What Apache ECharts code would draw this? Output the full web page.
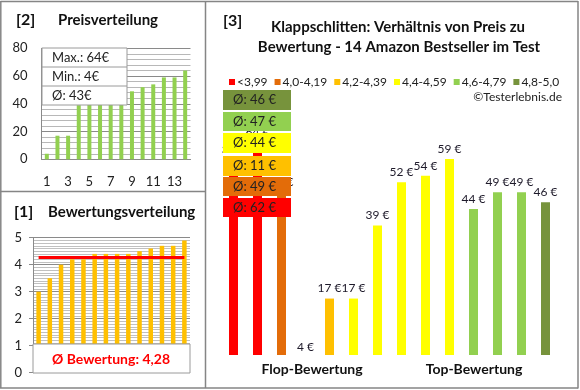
<!DOCTYPE html>
<html><head><meta charset="utf-8">
<script src="https://cdn.jsdelivr.net/npm/echarts@6/dist/echarts.min.js"></script>
<style>html,body{margin:0;padding:0;background:#fff}#c{width:580px;height:390px}</style>
</head><body><div id="c"></div>
<script>
// ---- data ----
const priceRank = ['1','2','3','4','5','6','7','8','9','10','11','12','13','14'];
const sortedPrices = [4,17,17,39,44,46,49,49,49,52,54,59,59,64];
const sortedRatings = [3.0,3.5,4.0,4.2,4.2,4.4,4.4,4.4,4.4,4.5,4.6,4.7,4.7,4.9];
const productPrices = [59,64,49,4,17,17,39,52,54,59,44,49,49,46];
const productRatings = [3.0,3.5,4.0,4.2,4.2,4.4,4.4,4.4,4.4,4.5,4.6,4.7,4.7,4.9];
const groupNames = ['<3,99','4,0-4,19','4,2-4,39','4,4-4,59','4,6-4,79','4,8-5,0'];
const groupUpper = [4.0,4.2,4.4,4.6,4.8,5.01];
const groupColors = ['#FF0000','#E36C09','#FFC000','#FFFF00','#92D050','#77933C'];

const FONT = 'Lato, "Open Sans", sans-serif';
const groupOf = r => groupUpper.findIndex(u => r < u - 1e-9);
const avg = a => a.reduce((s,v)=>s+v,0)/a.length;

const maxP = Math.max(...sortedPrices), minP = Math.min(...sortedPrices), avgP = Math.round(avg(sortedPrices));
const avgR = avg(sortedRatings);

// per-group average prices (overlay boxes)
const groupAvg = groupNames.map((n,g)=>{
  const v = productPrices.filter((p,i)=>groupOf(productRatings[i])===g);
  return Math.round(avg(v));
});

const mainSeries = groupNames.map((name,g)=>({
  name, type:'bar', xAxisIndex:2, yAxisIndex:2, barWidth:9, barGap:'-100%',
  itemStyle:{color:groupColors[g]},
  label:{show:true, position:'top', distance:4, formatter:p=>p.value+' €', fontFamily:FONT, fontSize:12, color:'#1e1a2a'},
  data: productPrices.map((p,i)=>{
    if (groupOf(productRatings[i])!==g) return '-';
    if (p < 10) return {value:p, label:{position:'inside', backgroundColor:'#fff', padding:[3,4,3,4], offset:[0,-1]}};
    return p;
  }),
  z: 2
}));

const boxTop = [90,112,133,156,177,198];
const boxH = [20,19,20,20,19,19];
const overlay = [];
for (let k=0;k<6;k++){
  const g = 5-k;
  overlay.push({type:'rect', shape:{x:223,y:boxTop[k],width:68,height:boxH[k]}, style:{fill:groupColors[g]}, z:50});
  overlay.push({type:'text', x:233, y:boxTop[k]+boxH[k]/2, style:{text:'Ø: '+groupAvg[g]+' €', font:'13px '+FONT, fill:'#222', textVerticalAlign:'middle'}, z:51});
}

const borderColor = '#858585';
const line = (x1,y1,x2,y2)=>({type:'line', shape:{x1,y1,x2,y2}, style:{stroke:borderColor, lineWidth:1.5}, z:100});

const chart = echarts.init(document.getElementById('c'), null, {renderer:'canvas'});
chart.setOption({
  animation:false,
  textStyle:{fontFamily:FONT},
  grid:[
    {left:41.5, top:48.3, width:149, height:111},
    {left:33, top:237.7, width:157, height:135},
    {left:221.5, top:89.4, width:336, height:265.6}
  ],
  xAxis:[
    {type:'category', gridIndex:0, data:priceRank, axisLine:{lineStyle:{color:'#8a8a8a'}}, axisTick:{show:false},
     axisLabel:{interval:1, margin:16, fontSize:13, color:'#222', fontFamily:FONT}},
    {type:'category', gridIndex:1, data:priceRank, axisLine:{show:false}, axisTick:{show:false}, axisLabel:{show:false}},
    {type:'category', gridIndex:2, data:priceRank, axisLine:{show:false}, axisTick:{show:false}, axisLabel:{show:false}}
  ],
  yAxis:[
    {type:'value', gridIndex:0, min:0, max:80, interval:20,
     axisLine:{show:true, lineStyle:{color:'#8a8a8a'}}, axisTick:{show:false},
     axisLabel:{fontSize:13, color:'#222', margin:14, fontFamily:FONT},
     splitLine:{lineStyle:{color:'#8a8a8a'}},
     minorTick:{show:false, splitNumber:5}, minorSplitLine:{show:true, lineStyle:{color:'#b8b8b8'}}},
    {type:'value', gridIndex:1, min:0, max:5, interval:1,
     axisLine:{show:true, lineStyle:{color:'#8a8a8a'}}, axisTick:{show:true, length:4, lineStyle:{color:'#8a8a8a'}},
     axisLabel:{fontSize:13, color:'#222', margin:11, fontFamily:FONT},
     splitLine:{lineStyle:{color:'#8a8a8a'}},
     minorTick:{show:false, splitNumber:10}, minorSplitLine:{show:true, lineStyle:{color:'#c0c0c0'}}},
    {type:'value', gridIndex:2, min:0, max:80, show:false, splitLine:{show:false}}
  ],
  legend:{data:groupNames, left:224, top:71, itemWidth:6, itemHeight:6, itemGap:7, icon:'rect',
    textStyle:{fontSize:12, color:'#222', fontFamily:FONT, padding:[0,0,0,-3]}},
  series:[
    {type:'bar', xAxisIndex:0, yAxisIndex:0, data:sortedPrices, barWidth:4, itemStyle:{color:'#92D050'}},
    {type:'bar', xAxisIndex:1, yAxisIndex:1, data:sortedRatings, barWidth:4.5, itemStyle:{color:'#FFC000'},
     markLine:{silent:true, symbol:'none', label:{show:false}, lineStyle:{color:'#FF0000', width:3, type:'solid'},
       data:[[{coord:[0,avgR]},{coord:[13,avgR]}]]}},
    ...mainSeries
  ],
  graphic:[
    // panel titles
    {type:'text', x:16, y:20, style:{text:'[2]', font:'bold 16px '+FONT, fill:'#111', textVerticalAlign:'middle'}},
    {type:'text', x:58, y:20, style:{text:'Preisverteilung', font:'bold 15px '+FONT, fill:'#111', textVerticalAlign:'middle'}},
    {type:'text', x:14, y:212, style:{text:'[1]', font:'bold 16px '+FONT, fill:'#111', textVerticalAlign:'middle'}},
    {type:'text', x:48, y:212, style:{text:'Bewertungsverteilung', font:'bold 15px '+FONT, fill:'#111', textVerticalAlign:'middle'}},
    {type:'text', x:223, y:21, style:{text:'[3]', font:'bold 16px '+FONT, fill:'#111', textVerticalAlign:'middle'}},
    {type:'text', x:398, y:27, style:{text:'Klappschlitten: Verhältnis von Preis zu', font:'bold 15px '+FONT, fill:'#111', textAlign:'center', textVerticalAlign:'middle'}},
    {type:'text', x:399, y:47, style:{text:'Bewertung - 14 Amazon Bestseller im Test', font:'bold 15px '+FONT, fill:'#111', textAlign:'center', textVerticalAlign:'middle'}},
    {type:'text', x:562, y:97, style:{text:'©Testerlebnis.de', font:'12px '+FONT, fill:'#222', textAlign:'right', textVerticalAlign:'middle'}},
    {type:'text', x:312, y:369, style:{text:'Flop-Bewertung', font:'bold 14px '+FONT, fill:'#111', textAlign:'center', textVerticalAlign:'middle'}},
    {type:'text', x:474, y:369, style:{text:'Top-Bewertung', font:'bold 14px '+FONT, fill:'#111', textAlign:'center', textVerticalAlign:'middle'}},
    // price summary box
    {type:'rect', shape:{x:42,y:48,width:85,height:57}, style:{fill:'#fff', stroke:'#9a9a9a', lineWidth:1}, z:40},
    {type:'line', shape:{x1:42,y1:67,x2:127,y2:67}, style:{stroke:'#9a9a9a', lineWidth:1}, z:41},
    {type:'line', shape:{x1:42,y1:86,x2:127,y2:86}, style:{stroke:'#9a9a9a', lineWidth:1}, z:41},
    {type:'text', x:52, y:58, style:{text:'Max.: '+maxP+'€', font:'13px '+FONT, fill:'#222', textVerticalAlign:'middle'}, z:42},
    {type:'text', x:52, y:77, style:{text:'Min.: '+minP+'€', font:'13px '+FONT, fill:'#222', textVerticalAlign:'middle'}, z:42},
    {type:'text', x:52, y:96, style:{text:'Ø: '+avgP+'€', font:'13px '+FONT, fill:'#222', textVerticalAlign:'middle'}, z:42},
    // rating average box
    {type:'rect', shape:{x:33,y:344,width:157,height:29}, style:{fill:'#fff', stroke:'#9a9a9a', lineWidth:1}, z:40},
    {type:'text', x:111, y:359, style:{text:'Ø Bewertung: '+avgR.toFixed(2).replace('.',','), font:'bold 14px '+FONT, fill:'#FF0000', textAlign:'center', textVerticalAlign:'middle'}, z:42},
    // overlay boxes
    ...overlay,
    // borders
    line(0.5,1.5,578,1.5), line(0.8,1,0.8,388), line(578,1,578,388.5), line(0,388,578,388),
    line(205.5,1,205.5,388), line(0,191.5,205.5,191.5)
  ]
});
</script></body></html>
